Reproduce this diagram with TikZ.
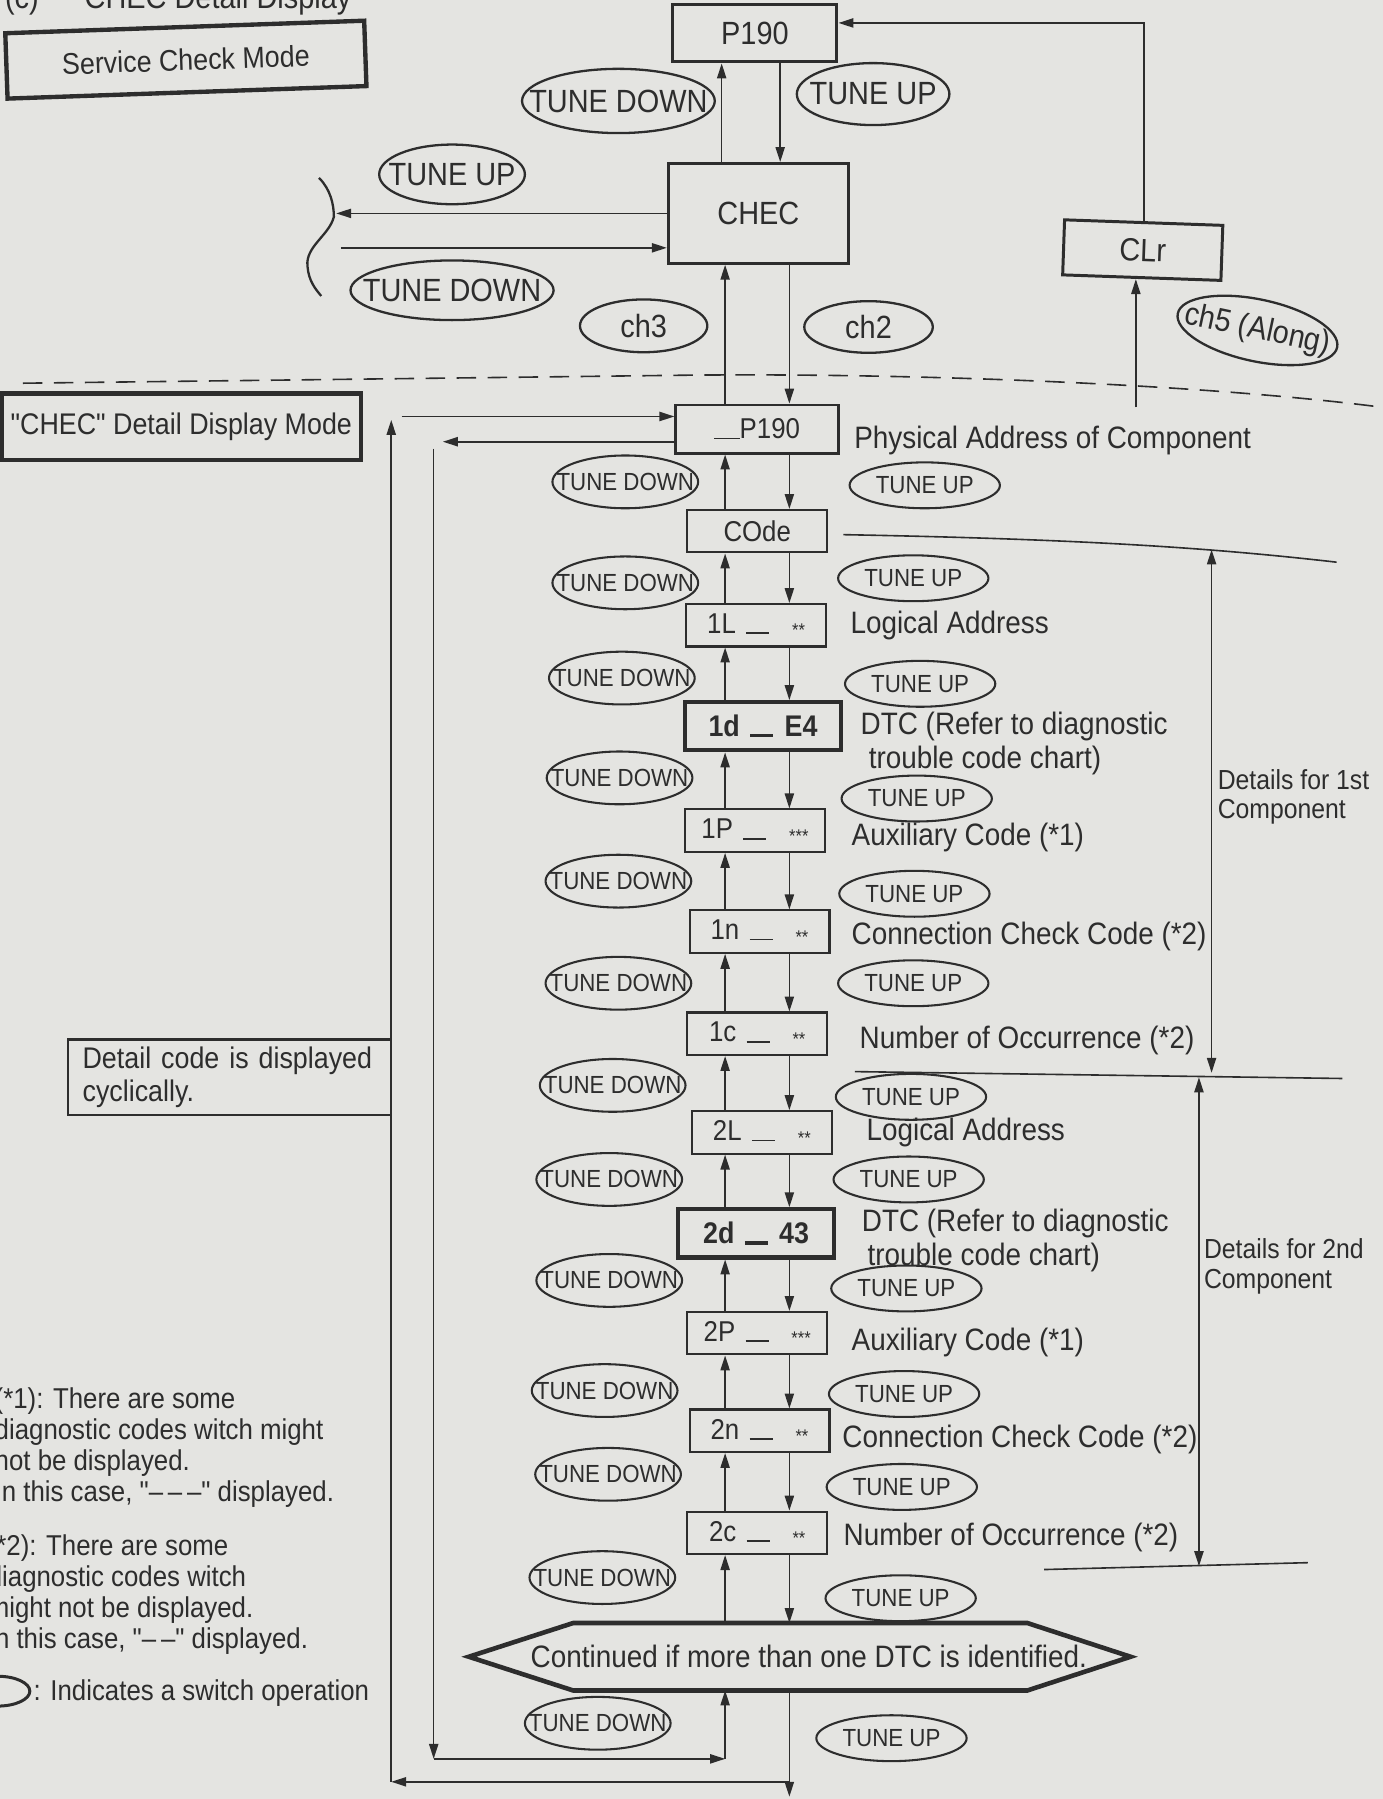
\documentclass[tikz,border=0pt]{standalone}
\usepackage{fontspec}
\setmainfont{Liberation Sans}[FakeStretch=0.9]
\newfontfamily\plainq{Liberation Sans}[FakeStretch=0.9]
\usepackage{tikz}
\usetikzlibrary{calc}
\usetikzlibrary{positioning}
\usetikzlibrary{arrows.meta}
\usetikzlibrary{shapes.geometric}
\definecolor{paper}{RGB}{228,228,225}
\definecolor{ink}{RGB}{45,45,45}
\newcommand{\zw}[1]{\makebox[0pt]{#1}}
\newcommand{\dq}{{\plainq"}}
\newcommand{\lowbar}[1][0.8pt]{\rule[-0.3pt]{10pt}{#1}}
\newcommand{\stars}[1]{\raisebox{-1.5pt}{\fontsize{8}{8}\selectfont #1}}
\newcommand{\dcode}[2]{#1\hspace{4.5pt}\lowbar\hspace{10pt}\stars{#2}}
\newcommand{\dtc}[2]{#1\hspace{4.5pt}\lowbar[1.6pt]\hspace{5pt}#2}

\begin{document}
\begin{tikzpicture}[x=0.5pt,y=-0.5pt,color=ink,node distance=9pt,
  arr/.style={line width=0.7pt,-{Triangle[length=6.5pt,width=4pt]}},
  span/.style={line width=0.7pt,{Triangle[length=6.5pt,width=4pt]}-{Triangle[length=6.5pt,width=4pt]}},
  cbox/.style={draw,line width=0.9pt,inner sep=0pt,minimum width=61pt,minimum height=18.5pt,
    font=\fontsize{12.5}{13}\selectfont},
  dtcbox/.style={cbox,line width=1.8pt,minimum width=68pt,minimum height=21pt,
    font=\fontsize{13}{13}\selectfont\bfseries},
  mbox/.style={draw,line width=1.3pt,inner sep=0pt,font=\fontsize{14}{14}\selectfont},
  tbox/.style={draw,line width=1.9pt,inner sep=0pt,minimum width=156.5pt,minimum height=28.5pt,
    font=\fontsize{13}{13}\selectfont},
  sw/.style={draw,ellipse,line width=0.9pt,inner sep=0pt,font=\fontsize{10.8}{11}\selectfont},
  swbig/.style={draw,ellipse,line width=1pt,inner sep=0pt,font=\fontsize{14}{14}\selectfont},
  lbl/.style={inner sep=0pt,font=\fontsize{13.5}{14}\selectfont},
  note/.style={inner sep=0pt,align=left,anchor=north west,font=\fontsize{12.5}{13.5}\selectfont}]
\useasboundingbox (0,0) rectangle (1205,1568);
\fill[paper] (0,0) rectangle (1205,1568);

\node[anchor=base west,inner sep=0pt,font=\fontsize{14}{14}\selectfont] (ttl) at (4,7)
  {(c)\hspace{20pt}CHEC Detail Display};
\node[tbox,rotate=2] (svc) at (162,52) {Service Check Mode};
\node[mbox,minimum width=71.5pt,minimum height=25pt] (p190) at (658,29) {P190};
\node[mbox,minimum width=78.5pt,minimum height=43.5pt] (chec) at (661,186) {CHEC};
\node[mbox,minimum width=69pt,minimum height=24pt,rotate=-2] (clr) at (996,218) {CLr};
\node[swbig,minimum width=84pt,minimum height=28pt] (dn0) at (539,88) {\zw{TUNE DOWN}};
\node[swbig,minimum width=66.5pt,minimum height=27pt] (up0) at (761,82) {\zw{TUNE UP}};
\node[swbig,minimum width=63.5pt,minimum height=26pt] (upl) at (394,152) {\zw{TUNE UP}};
\node[swbig,minimum width=88.5pt,minimum height=26pt] (dnl) at (394,253) {\zw{TUNE DOWN}};
\node[swbig,minimum width=55.5pt,minimum height=23pt] (ch3) at (561,284) {\zw{ch3}};
\node[swbig,minimum width=56pt,minimum height=22.5pt] (ch2) at (757,285) {\zw{ch2}};
\node[swbig,minimum width=71pt,minimum height=27pt,rotate=-12] (ch5) at (1096,288) {\zw{ch5 (Along)}};

\draw[line width=0.7pt,dash pattern=on 8.5pt off 5pt] (20,334) -- (600,327)
  .. controls (800,325) and (1050,335) .. (1205,355);

\node[tbox,minimum height=29pt] (mode) at (158,372) {\dq CHEC\dq\ Detail Display Mode};

\node[cbox,minimum width=71pt,minimum height=21pt,line width=1.2pt] (pa) at (660,374) {\rule[-0.3pt]{11pt}{0.8pt}P190};
\node[cbox] (code) at (660,463) {COde};
\node[cbox] (l1) at (659,545) {\dcode{1L}{**}};
\node[dtcbox] (d1) at (665,633) {\dtc{1d}{E4}};
\node[cbox] (p1) at (658,724) {\dcode{1P}{***}};
\node[cbox] (n1) at (662,812) {\dcode{1n}{**}};
\node[cbox] (c1) at (660,901) {\dcode{1c}{**}};
\node[cbox] (l2) at (664,987) {\dcode{2L}{**}};
\node[dtcbox] (d2) at (659,1075) {\dtc{2d}{43}};
\node[cbox] (p2) at (660,1162) {\dcode{2P}{***}};
\node[cbox] (n2) at (662,1247) {\dcode{2n}{**}};
\node[cbox] (c2) at (660,1336) {\dcode{2c}{**}};
\node[lbl,minimum width=288pt,minimum height=29pt] (cont) at (697,1444)
  {\hspace*{8pt}Continued if more than one DTC is identified.};
\draw[line width=2pt] (cont.west) -- ($(cont.north west)+(91,0)$) -- ($(cont.north east)+(-90,0)$)
  -- (cont.east) -- ($(cont.south east)+(-90,0)$) -- ($(cont.south west)+(91,0)$) -- cycle;

\foreach \x/\y [count=\i] in {545/420,545/508,542/591,540/678,539/768,539/857,534/946,
    531/1028,531/1116,527/1212,530/1285,525/1375,521/1502}
  \node[sw,minimum width=63.5pt,minimum height=23pt] (dn\i) at (\x,\y) {\zw{TUNE DOWN}};
\foreach \x/\y [count=\i] in {806/423,796/504,802/596,799/696,797/779,796/857,794/956,
    792/1028,790/1123,788/1215,786/1296,785/1393,777/1515}
  \node[sw,minimum width=65.5pt,minimum height=20pt] (up\i) at (\x,\y) {\zw{TUNE UP}};

\node[lbl,right=6pt of pa,yshift=-5pt] (t1) {Physical Address of Component};
\node[lbl,right=10pt of l1] (t2) {Logical Address};
\node[lbl,right=7.5pt of d1] (t3) {DTC (Refer to diagnostic};
\node[lbl,anchor=north west] (t3b) at ($(t3.south west)+(7,4)$) {trouble code chart)};
\node[lbl,right=11pt of p1,yshift=-3pt] (t4) {Auxiliary Code (*1)};
\node[lbl,right=9pt of n1,yshift=-2pt] (t5) {Connection Check Code (*2)};
\node[lbl,right=13.5pt of c1,yshift=-3pt] (t6) {Number of Occurrence (*2)};
\node[lbl,right=14.5pt of l2] (t7) {Logical Address};
\node[lbl,right=11pt of d2,yshift=4.5pt] (t8) {DTC (Refer to diagnostic};
\node[lbl,anchor=north west] (t8b) at ($(t8.south west)+(5,4)$) {trouble code chart)};
\node[lbl,right=10pt of p2,yshift=-4pt] (t9) {Auxiliary Code (*1)};
\node[lbl,right=5pt of n2,yshift=-4pt] (t10) {Connection Check Code (*2)};
\node[lbl,right=6.5pt of c2,yshift=-2pt] (t11) {Number of Occurrence (*2)};

\draw[line width=0.7pt] (735,466) .. controls (950,470) and (1060,478) .. (1165,490);
\draw[line width=0.7pt] (745,934) -- (1170,940);
\draw[line width=0.7pt] (910,1368) -- (1140,1362);
\coordinate (s1) at (1056,479);
\coordinate (s2) at (1056,935);
\coordinate (s3) at (1045,939);
\coordinate (s4) at (1045,1365);
\draw[span] (s1) -- (s2);
\draw[span] (s3) -- (s4);
\node[lbl,align=left,anchor=north west,font=\fontsize{12}{13}\selectfont] (dt1) at (1061,670)
  {Details for 1st\\Component};
\node[lbl,align=left,anchor=north west,font=\fontsize{12}{13}\selectfont] (dt2) at (1049,1079)
  {Details for 2nd\\Component};

\node[draw,line width=0.9pt,inner xsep=6.5pt,inner ysep=3pt,text width=128pt,align=left,
  minimum height=33pt,font=\fontsize{13}{14.5}\selectfont] (cyc) at (200,939)
  {Detail code is displayed\\cyclically.};

\node[note] (fn1) at (-5,1209) {(*1): There are some\\diagnostic codes witch might\\not be displayed.\\In this case, \dq--\,--\,--\dq\ displayed.};
\node[note] (fn2) at (-11,1337) {(*2): There are some\\diagnostic codes witch\\might not be displayed.\\In this case, \dq--\,--\dq\ displayed.};
\node[draw,ellipse,line width=1.3pt,inner sep=0pt,minimum width=28pt,minimum height=13pt] (key) at (-2,1474) {};
\node[lbl,anchor=west,font=\fontsize{12.5}{13}\selectfont] (keytxt) at (29,1476) {: Indicates a switch operation};

\coordinate (tu) at (629,0);
\coordinate (td) at (680,0);
\draw[arr] (chec.north -| tu) -- (p190.south -| tu);
\draw[arr] (p190.south -| td) -- (chec.north -| td);
\draw[arr] (clr.north) |- ($(p190.east)+(0,-9)$);
\coordinate (ch5in) at (990,355);
\draw[arr] (ch5in) -- (ch5in |- clr.south);

\draw[line width=1pt] (278,155) .. controls (288,165) and (291,178) .. (291,189)
  .. controls (287,205) and (266,215) .. (268,232) .. controls (269,245) and (275,252) .. (280,258);
\coordinate (bl) at (293,186);
\coordinate (br) at (297,216);
\draw[arr] (chec.west |- bl) -- (bl);
\draw[arr] (br) -- (chec.west |- br);

\coordinate (cu) at (632,0);
\coordinate (cd) at (688,0);
\draw[arr] (pa.north -| cu) -- (chec.south -| cu);
\draw[arr] (chec.south -| cd) -- (pa.north -| cd);
\foreach \a/\b in {pa/code,code/l1,l1/d1,d1/p1,p1/n1,n1/c1,c1/l2,l2/d2,d2/p2,p2/n2,n2/c2,c2/cont}{
  \draw[arr] (\b.north -| cu) -- (\a.south -| cu);
  \draw[arr] (\a.south -| cd) -- (\b.north -| cd);
}

\coordinate (dnend) at (688,1566);
\draw[arr] (cont.south -| cd) -- (dnend);
\coordinate (ob) at (341,1553);
\coordinate (ot) at (341,366);
\draw[arr] (dnend |- ob) -- (ob);
\draw[arr] (ob) -- (ot);
\coordinate (oh) at (350,363);
\draw[arr] (oh) -- (oh -| pa.west);
\coordinate (ih) at (386,385);
\draw[arr] (ih -| pa.west) -- (ih);
\coordinate (it) at (378,391);
\coordinate (ib) at (378,1533);
\draw[arr] (it) -- (ib);
\draw[arr] (ib) -- (ib -| cu);
\draw[arr] (ib -| cu) -- (cont.south -| cu);
\end{tikzpicture}
\end{document}
